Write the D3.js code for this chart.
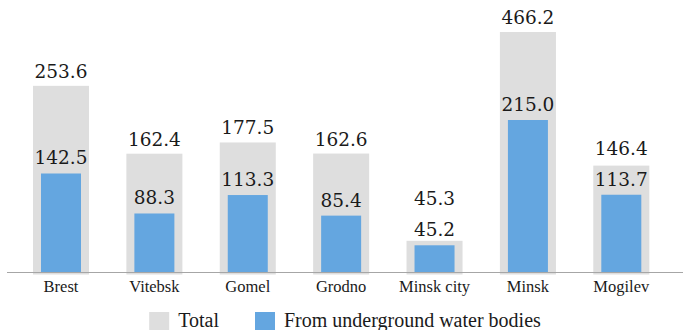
<!DOCTYPE html>
<html>
<head>
<meta charset="utf-8">
<script src="https://cdn.jsdelivr.net/npm/d3@7/dist/d3.min.js"></script>
<style>
  html, body { margin: 0; padding: 0; background: #fff; }
  svg { display: block; }
</style>
</head>
<body>
<svg id="chart" width="685" height="330"></svg>
<script>
// Water withdrawal by region
const regions = ["Brest", "Vitebsk", "Gomel", "Grodno", "Minsk city", "Minsk", "Mogilev"];
const total = [253.6, 162.4, 177.5, 162.6, 45.3, 466.2, 146.4];
const underground = [142.5, 88.3, 113.3, 85.4, 45.2, 215.0, 113.7];
const seriesNames = ["Total", "From underground water bodies"];

const colors = { total: "#dedede", under: "#64a6e0", axis: "#a6a6a6", text: "#1a1a1a" };
const fontValues = "'DejaVu Serif', serif";
const fontText = "'Liberation Serif', serif";

const svg = d3.select("#chart");

// category positions
const x = d3.scaleBand()
  .domain(regions)
  .range([14.3, 668])
  .paddingInner(0.4)
  .paddingOuter(0.2);

// primary axis (totals), clipped at the plot top
const yTotal = d3.scaleLinear().domain([0, 326]).range([274.5, 32]).clamp(true);
// secondary axis (underground sources)
const yUnder = d3.scaleLinear().domain([9, 215]).range([272, 120]);

const rows = regions.map((r, i) => ({ region: r, total: total[i], under: underground[i] }));

const innerW = 40;
const inset = (x.bandwidth() - innerW) / 2;

// total bars
svg.append("g").selectAll("rect")
  .data(rows).join("rect")
  .attr("x", d => x(d.region))
  .attr("y", d => yTotal(d.total))
  .attr("width", x.bandwidth())
  .attr("height", d => yTotal(0) - yTotal(d.total))
  .attr("fill", colors.total);

// underground bars
svg.append("g").selectAll("rect")
  .data(rows).join("rect")
  .attr("x", d => x(d.region) + inset)
  .attr("y", d => yUnder(d.under))
  .attr("width", innerW)
  .attr("height", d => yUnder.range()[0] - yUnder(d.under))
  .attr("fill", colors.under);

// baseline
svg.append("line")
  .attr("x1", 7).attr("x2", 683)
  .attr("y1", 272.5).attr("y2", 272.5)
  .attr("stroke", colors.axis).attr("stroke-width", 1);

// value labels; a total label is lifted clear of the underground label below it
const fmt = d3.format(".1f");
const underLabelY = d => yUnder(d.under) - 9;
const totalLabelY = d => Math.min(yTotal(d.total) - 8, underLabelY(d) - 31);

const labels = svg.append("g")
  .style("font-family", fontValues)
  .attr("font-size", 18.5)
  .attr("fill", colors.text)
  .attr("text-anchor", "middle");

labels.selectAll("text.under")
  .data(rows).join("text")
  .attr("class", "under")
  .attr("x", d => x(d.region) + x.bandwidth() / 2)
  .attr("y", underLabelY)
  .text(d => fmt(d.under));

labels.selectAll("text.total")
  .data(rows).join("text")
  .attr("class", "total")
  .attr("x", d => x(d.region) + x.bandwidth() / 2)
  .attr("y", totalLabelY)
  .text(d => fmt(d.total));

// category axis
const xAxis = svg.append("g")
  .attr("transform", "translate(0,272.5)")
  .call(d3.axisBottom(x).tickSize(0).tickPadding(0));
xAxis.select(".domain").remove();
xAxis.selectAll("text")
  .attr("dy", null)
  .attr("y", 19)
  .attr("font-size", 16.5)
  .style("font-family", fontText)
  .attr("fill", colors.text);

// legend
const legend = svg.append("g");
const items = [
  { name: seriesNames[0], color: colors.total },
  { name: seriesNames[1], color: colors.under }
];
const sw = 20, gapText = 9, gapItem = 36, legendY = 327;
let cursor = 0;
items.forEach(it => {
  const g = legend.append("g");
  g.append("rect").attr("width", sw).attr("height", 20).attr("y", legendY - 15).attr("fill", it.color);
  const t = g.append("text")
    .attr("x", sw + gapText).attr("y", legendY)
    .style("font-family", fontText)
    .attr("font-size", 20).attr("fill", colors.text)
    .text(it.name);
  const w = sw + gapText + t.node().getComputedTextLength();
  g.attr("transform", `translate(${cursor},0)`);
  cursor += w + gapItem;
});
const legendW = cursor - gapItem;
legend.attr("transform", `translate(${345 - legendW / 2},0)`);
</script>
</body>
</html>
